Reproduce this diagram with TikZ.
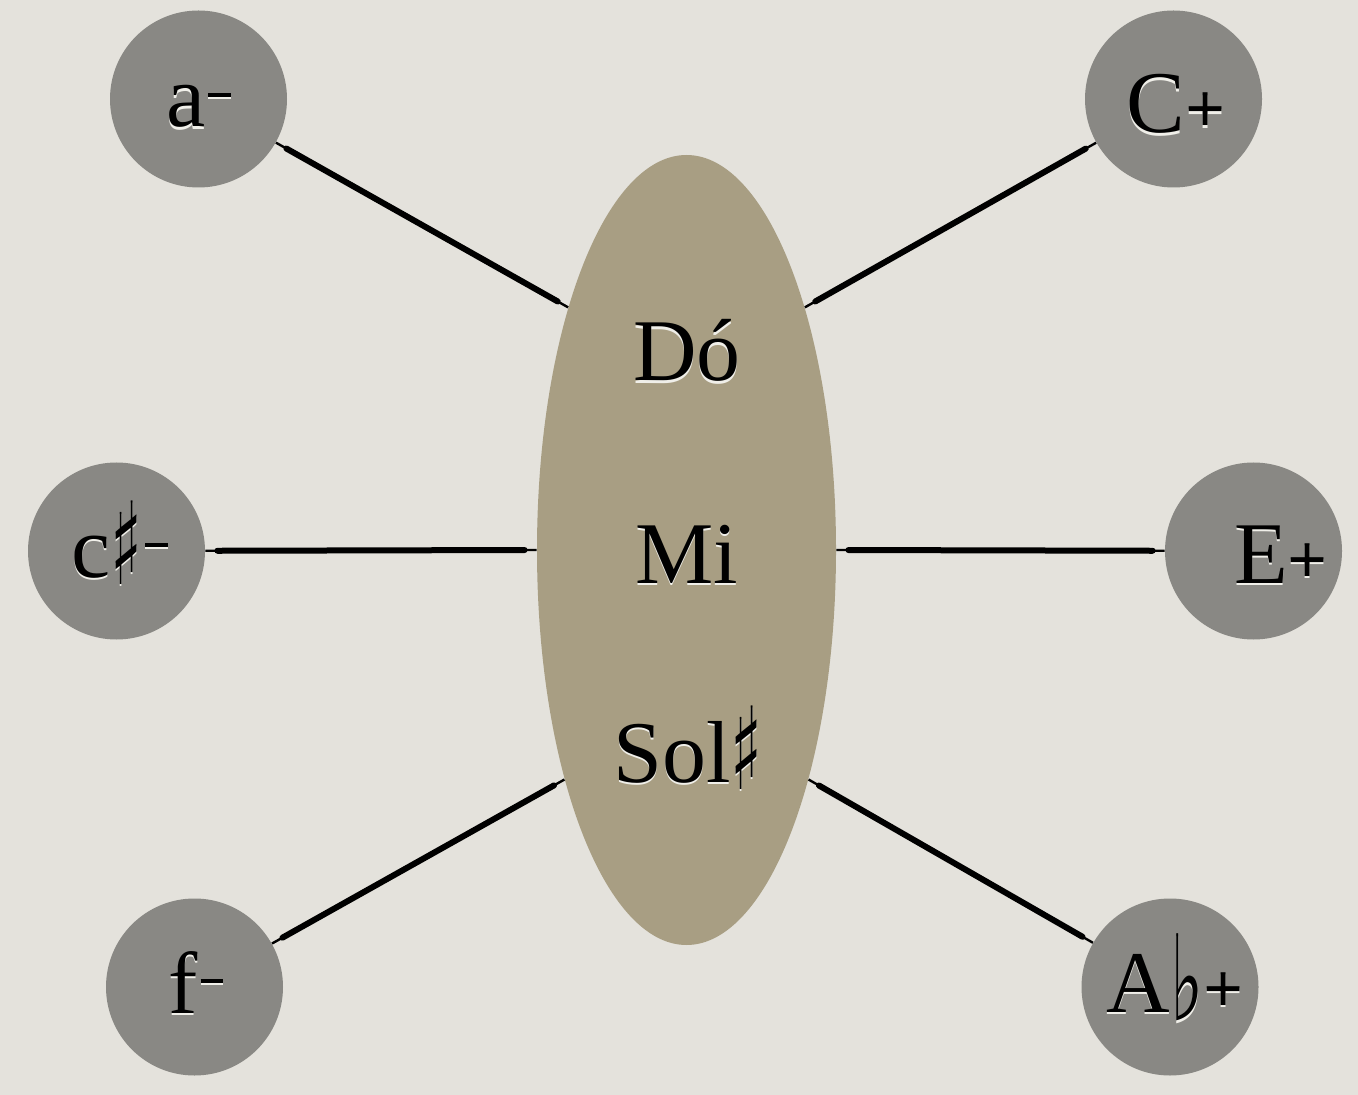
\documentclass[tikz,border=0pt]{standalone}
\usepackage{graphicx}
\usepackage{fontspec}
\setmainfont{Liberation Serif}
\newfontfamily\musicfont{DejaVu Sans}
\usetikzlibrary{shapes.geometric}

\definecolor{paper}{RGB}{228,226,220}
\definecolor{keygray}{RGB}{137,136,132}
\definecolor{triadtan}{RGB}{168,158,131}
\definecolor{glow}{RGB}{240,239,233}

\newcommand{\shp}{{\musicfont\raisebox{-.08em}{\scalebox{0.75}[1.3]{♯}}}}
\newcommand{\flt}{{\musicfont\raisebox{-.1em}{\scalebox{0.8}[1.35]{♭}}}}
\newcommand{\mn}{\hspace{.03em}\rule[.34em]{.26em}{.05em}}
\newcommand{\pl}{\scalebox{.8}{\textbf{+}}}
\newcommand{\glowtxt}[1]{\rlap{\color{glow}\raisebox{-1.2pt}{#1}}#1}

\begin{document}
\begin{tikzpicture}[
  x=0.5pt, y=-0.5pt,
  keydisc/.style={circle, fill=keygray, minimum size=88.5pt, inner sep=0pt},
  triad/.style={ellipse, fill=triadtan, minimum width=149.5pt, minimum height=395pt, inner sep=0pt},
  notelbl/.style={anchor=base, inner sep=0pt, font=\fontsize{44}{50}\selectfont},
  brush/.style={draw=black, line width=3pt, line cap=round, shorten <=6pt, shorten >=6pt},
  hair/.style={draw=black, line width=1.2pt},
]

\fill[paper] (0,0) rectangle (1358,1095);

\node[triad] (triad) at (686.5,550) {};

\node[keydisc] (amin)  at (198.5,99)  {};
\node[keydisc] (cmaj)  at (1173.5,99) {};
\node[keydisc] (csmin) at (116.5,551) {};
\node[keydisc] (emaj)  at (1253.5,551) {};
\node[keydisc] (fmin)  at (194.5,987) {};
\node[keydisc] (abmaj) at (1170,987)  {};

% connectors from each key to the triad
\foreach \k/\a in {amin/116, cmaj/64, csmin/180, emaj/0, fmin/242, abmaj/298}{
  \draw[brush] (\k) -- (triad.\a);
  \draw[hair] (\k) -- (triad.\a);
}

\node[notelbl] (do)  at (687,381) {\glowtxt{Dó}};
\node[notelbl] (mi)  at (687,583) {\glowtxt{Mi}};
\node[notelbl] (sol) at (688,782) {\glowtxt{Sol\shp}};

\node[notelbl] (amintxt)  at (199,127)  {\glowtxt{a\mn}};
\node[notelbl] (cmajtxt)  at (1176,133) {\glowtxt{C\pl}};
\node[notelbl] (csmintxt) at (120,577)  {\glowtxt{c\shp\mn}};
\node[notelbl] (emajtxt)  at (1281,583) {\glowtxt{E\pl}};
\node[notelbl] (fmintxt)  at (196,1013) {\glowtxt{f\mn}};
\node[notelbl] (abmajtxt) at (1175,1012) {\glowtxt{A\flt\pl}};

\end{tikzpicture}
\end{document}
